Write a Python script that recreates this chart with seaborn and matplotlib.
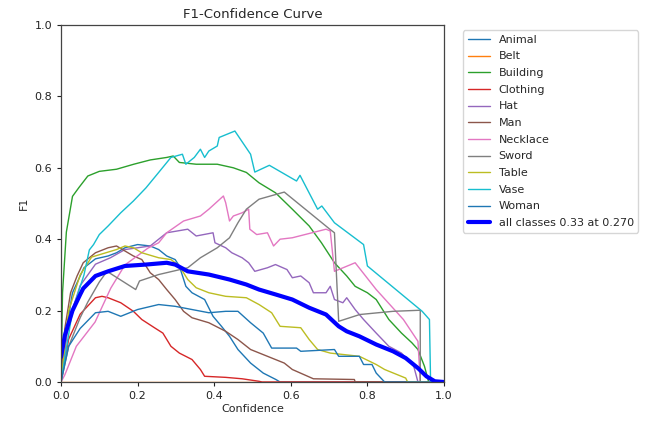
import matplotlib
matplotlib.use("Agg")
import matplotlib.pyplot as plt
import seaborn as sns
import pandas as pd

classes = ["Animal", "Belt", "Building", "Clothing", "Hat", "Man", "Necklace",
           "Sword", "Table", "Vase", "Woman"]

animal_x = [0.0, 0.01, 0.03, 0.06, 0.09, 0.123, 0.145, 0.167, 0.2, 0.233, 0.255, 0.276, 0.298,
            0.309, 0.326, 0.342, 0.375, 0.397, 0.419, 0.44, 0.462, 0.495, 0.528, 0.561, 0.572, 1.0]
animal_y = [0.0, 0.12, 0.25, 0.32, 0.345, 0.353, 0.362, 0.376, 0.385, 0.381, 0.371, 0.353, 0.343,
            0.325, 0.268, 0.25, 0.231, 0.184, 0.156, 0.128, 0.091, 0.053, 0.025, 0.007, 0.0, 0.0]

belt_x = [0.0, 1.0]
belt_y = [0.0, 0.0]

building_x = [0.0, 0.004, 0.014, 0.03, 0.047, 0.07, 0.10, 0.145, 0.19, 0.233, 0.276, 0.293,
              0.309, 0.353, 0.408, 0.45, 0.484, 0.517, 0.56, 0.604, 0.648, 0.68, 0.714, 0.746,
              0.768, 0.80, 0.823, 0.856, 0.889, 0.916, 0.932, 0.949, 0.96, 1.0]
building_y = [0.0, 0.25, 0.42, 0.52, 0.545, 0.577, 0.59, 0.596, 0.61, 0.622, 0.629, 0.633,
              0.615, 0.61, 0.61, 0.60, 0.587, 0.558, 0.53, 0.484, 0.437, 0.39, 0.334, 0.297,
              0.268, 0.25, 0.231, 0.175, 0.137, 0.11, 0.091, 0.044, 0.0, 0.0]

clothing_x = [0.0, 0.02, 0.05, 0.09, 0.107, 0.123, 0.156, 0.189, 0.211, 0.244, 0.266, 0.287,
              0.309, 0.342, 0.364, 0.375, 0.43, 0.473, 0.517, 0.525, 1.0]
clothing_y = [0.0, 0.12, 0.19, 0.236, 0.24, 0.236, 0.222, 0.198, 0.175, 0.152, 0.137, 0.1,
              0.081, 0.063, 0.035, 0.016, 0.013, 0.009, 0.002, 0.0, 0.0]

hat_x = [0.0, 0.02, 0.05, 0.09, 0.129, 0.167, 0.2, 0.233, 0.276, 0.331, 0.353, 0.397, 0.402,
         0.43, 0.446, 0.473, 0.49, 0.506, 0.539, 0.56, 0.59, 0.604, 0.626, 0.648, 0.659, 0.692,
         0.703, 0.714, 0.736, 0.746, 0.768, 0.79, 0.823, 0.856, 0.889, 0.921, 0.932, 1.0]
hat_y = [0.0, 0.17, 0.27, 0.33, 0.348, 0.371, 0.376, 0.381, 0.418, 0.428, 0.409, 0.418, 0.39,
         0.376, 0.362, 0.348, 0.334, 0.31, 0.32, 0.329, 0.315, 0.292, 0.297, 0.278, 0.25, 0.25,
         0.268, 0.231, 0.222, 0.236, 0.203, 0.175, 0.137, 0.1, 0.081, 0.044, 0.0, 0.0]

man_x = [0.0, 0.01, 0.025, 0.042, 0.058, 0.09, 0.123, 0.145, 0.167, 0.189, 0.211, 0.233, 0.255,
         0.276, 0.298, 0.32, 0.342, 0.386, 0.43, 0.462, 0.495, 0.539, 0.583, 0.604, 0.659,
         0.766, 0.768, 1.0]
man_y = [0.0, 0.15, 0.25, 0.297, 0.334, 0.362, 0.376, 0.381, 0.367, 0.353, 0.343, 0.306, 0.287,
         0.259, 0.231, 0.198, 0.18, 0.166, 0.142, 0.119, 0.091, 0.072, 0.053, 0.035, 0.009,
         0.007, 0.0, 0.0]

necklace_x = [0.0, 0.01, 0.04, 0.089, 0.13, 0.167, 0.227, 0.255, 0.276, 0.32, 0.364, 0.386,
              0.424, 0.43, 0.44, 0.45, 0.473, 0.49, 0.493, 0.511, 0.539, 0.555, 0.572, 0.604,
              0.692, 0.703, 0.714, 0.768, 0.823, 0.894, 0.932, 0.938, 1.0]
necklace_y = [0.0, 0.02, 0.10, 0.168, 0.263, 0.328, 0.375, 0.39, 0.418, 0.451, 0.465, 0.484,
              0.521, 0.502, 0.451, 0.465, 0.474, 0.484, 0.428, 0.413, 0.418, 0.381, 0.4, 0.404,
              0.428, 0.423, 0.31, 0.334, 0.259, 0.175, 0.114, 0.0, 0.0]

sword_x = [0.0, 0.02, 0.05, 0.07, 0.1, 0.12, 0.195, 0.205, 0.255, 0.331, 0.364, 0.408, 0.44,
           0.462, 0.484, 0.517, 0.583, 0.703, 0.714, 0.725, 0.78, 0.867, 0.938, 0.938, 1.0]
sword_y = [0.0, 0.1, 0.18, 0.224, 0.28, 0.31, 0.259, 0.283, 0.301, 0.32, 0.348, 0.376, 0.404,
           0.446, 0.484, 0.512, 0.532, 0.427, 0.418, 0.17, 0.189, 0.198, 0.201, 0.0, 0.0]

table_x = [0.0, 0.02, 0.05, 0.08, 0.145, 0.167, 0.189, 0.211, 0.255, 0.287, 0.309, 0.331, 0.353,
           0.386, 0.43, 0.484, 0.517, 0.55, 0.572, 0.626, 0.648, 0.67, 0.703, 0.779, 0.823,
           0.845, 0.9, 0.905, 1.0]
table_y = [0.0, 0.2, 0.3, 0.35, 0.371, 0.381, 0.376, 0.362, 0.348, 0.343, 0.325, 0.287, 0.264,
           0.25, 0.24, 0.236, 0.217, 0.194, 0.156, 0.152, 0.119, 0.091, 0.081, 0.072, 0.049,
           0.035, 0.011, 0.0, 0.0]

vase_x = [0.0, 0.03, 0.06, 0.074, 0.085, 0.10, 0.123, 0.156, 0.189, 0.222, 0.255, 0.287, 0.317,
          0.326, 0.348, 0.364, 0.375, 0.386, 0.408, 0.413, 0.454, 0.495, 0.506, 0.544, 0.615,
          0.624, 0.67, 0.681, 0.714, 0.79, 0.80, 0.943, 0.962, 0.965, 1.0]
vase_y = [0.0, 0.2, 0.3, 0.37, 0.385, 0.413, 0.437, 0.474, 0.507, 0.544, 0.587, 0.629, 0.638,
          0.61, 0.629, 0.652, 0.629, 0.647, 0.661, 0.685, 0.703, 0.638, 0.588, 0.607, 0.563,
          0.579, 0.484, 0.493, 0.446, 0.385, 0.325, 0.198, 0.175, 0.0, 0.0]

woman_x = [0.0, 0.02, 0.05, 0.09, 0.123, 0.156, 0.2, 0.255, 0.298, 0.342, 0.386, 0.43, 0.462,
           0.495, 0.528, 0.55, 0.615, 0.626, 0.714, 0.725, 0.779, 0.79, 0.812, 0.823, 0.845, 1.0]
woman_y = [0.0, 0.1, 0.15, 0.194, 0.198, 0.184, 0.203, 0.217, 0.212, 0.203, 0.194, 0.198, 0.198,
           0.166, 0.137, 0.095, 0.095, 0.086, 0.091, 0.072, 0.072, 0.049, 0.049, 0.025, 0.0, 0.0]

all_x = [0.0, 0.01, 0.03, 0.05, 0.058, 0.09, 0.123, 0.167, 0.222, 0.276, 0.298, 0.331, 0.386,
         0.44, 0.484, 0.517, 0.561, 0.604, 0.648, 0.692, 0.725, 0.746, 0.779, 0.823, 0.867,
         0.9, 0.932, 0.954, 0.976, 1.0]
all_y = [0.07, 0.13, 0.2, 0.245, 0.262, 0.297, 0.31, 0.325, 0.329, 0.334, 0.329, 0.31, 0.301,
         0.287, 0.273, 0.259, 0.245, 0.231, 0.208, 0.189, 0.156, 0.142, 0.128, 0.105, 0.086,
         0.067, 0.039, 0.016, 0.002, 0.0]
all_label = "all classes 0.33 at 0.270"

series_x = [animal_x, belt_x, building_x, clothing_x, hat_x, man_x, necklace_x, sword_x,
            table_x, vase_x, woman_x]
series_y = [animal_y, belt_y, building_y, clothing_y, hat_y, man_y, necklace_y, sword_y,
            table_y, vase_y, woman_y]

sns.set_style("ticks")
plt.rcParams["font.family"] = ["DejaVu Sans"]
plt.rcParams["axes.edgecolor"] = "#444444"

fig = plt.figure(figsize=(6.55, 4.26), dpi=100)
ax = fig.add_axes([61 / 655, 1 - 382 / 426, 383 / 655, 357 / 426])

palette = sns.color_palette("tab10", 10)
for i, (name, xs, ys) in enumerate(zip(classes, series_x, series_y)):
    df = pd.DataFrame({"Confidence": xs, "F1": ys})
    sns.lineplot(data=df, x="Confidence", y="F1", ax=ax, color=palette[i % 10],
                 linewidth=1, label=name, sort=False, estimator=None)

df_all = pd.DataFrame({"Confidence": all_x, "F1": all_y})
sns.lineplot(data=df_all, x="Confidence", y="F1", ax=ax, color="blue", linewidth=3,
             label=all_label, sort=False, estimator=None)

ax.set_xlim(0, 1)
ax.set_ylim(0, 1)
ax.set_xticks([0, 0.2, 0.4, 0.6, 0.8, 1.0])
ax.set_yticks([0, 0.2, 0.4, 0.6, 0.8, 1.0])
ax.tick_params(labelsize=8, length=3, width=0.8, colors="#222222")
ax.set_xlabel("Confidence", fontsize=8, labelpad=2)
ax.set_ylabel("F1", fontsize=8, labelpad=4)
ax.set_title("F1-Confidence Curve", fontsize=9.5, pad=5)
for s in ax.spines.values():
    s.set_visible(True)
    s.set_linewidth(0.9)

leg = ax.legend(loc="upper left", bbox_to_anchor=(1.05, 0.985), borderaxespad=0,
                fontsize=8, frameon=True, handlelength=2.0, labelspacing=0.6)
leg.get_frame().set_edgecolor("#cccccc")

fig.savefig("out.png", dpi=100)
